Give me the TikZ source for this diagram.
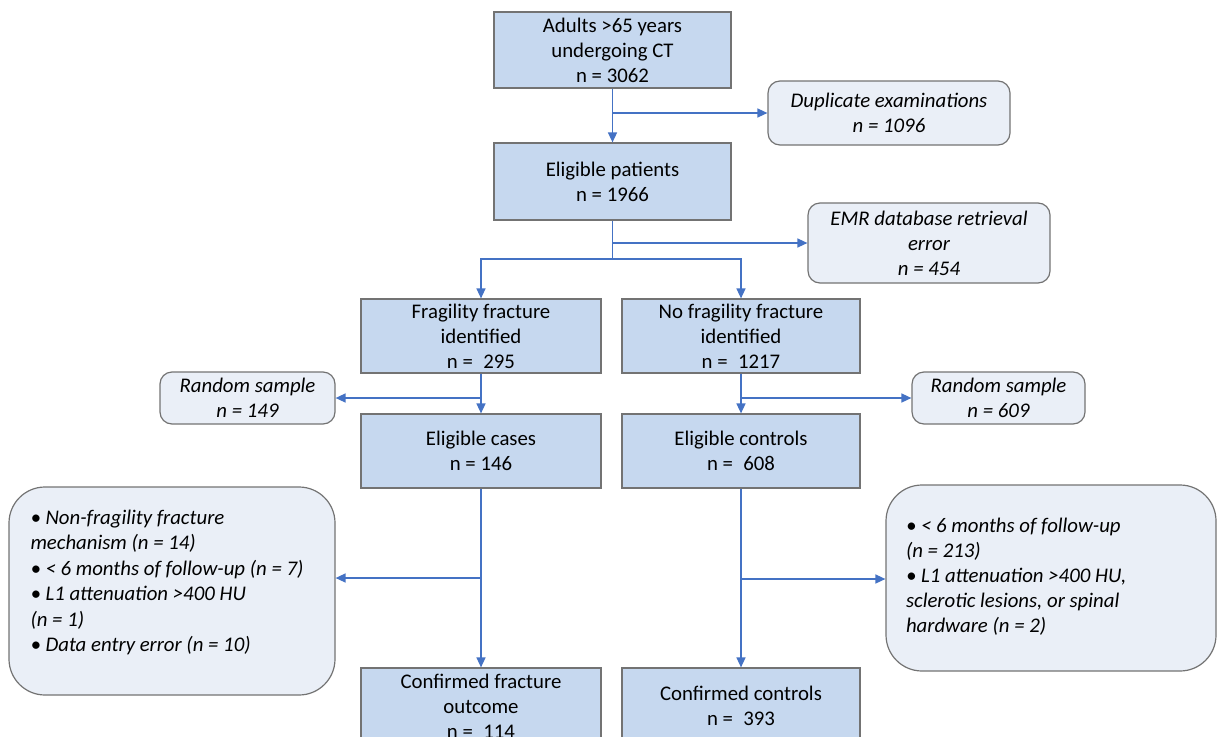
\documentclass[tikz,border=0pt]{standalone}
\usepackage{fontspec}
\setmainfont{Carlito}
\usetikzlibrary{arrows.meta,calc}
\definecolor{boxblue}{RGB}{198,216,239}
\definecolor{boxgray}{RGB}{115,115,115}
\definecolor{sidefill}{RGB}{234,239,247}
\definecolor{flowblue}{RGB}{68,114,196}
\begin{document}
\begin{tikzpicture}[x=1pt,y=-1pt,
  txt/.style={font=\fontsize{20.8}{25}\selectfont},
  mainbox/.style={txt, draw=boxgray, line width=1.2pt, fill=boxblue, minimum width=237pt, minimum height=76pt, align=center, inner sep=0pt},
  sidebox/.style={txt, draw=boxgray, line width=1.2pt, fill=sidefill, rounded corners=12pt, align=center, inner sep=0pt, font=\fontsize{20.8}{25}\selectfont\itshape},
  exbox/.style={sidebox, rounded corners=36pt},
  flow/.style={draw=flowblue, line width=1.5pt},
  arr/.style={flow, -{Triangle[length=10pt,width=9pt]}}]
\path[use as bounding box] (0,0) rectangle (1217,736);
\clip (0,0) rectangle (1217,736);

\node[mainbox] (adults) at (612.5,50) {Adults >65 years\\undergoing CT\\n = 3062};
\node[sidebox, minimum width=242pt, minimum height=64pt] (dup) at (889,113) {Duplicate examinations\\n = 1096};
\node[mainbox, minimum height=77pt] (elig) at (612.5,181.5) {Eligible patients\\n = 1966};
\node[sidebox, minimum width=242pt, minimum height=80pt] (emr) at (929,243) {EMR database retrieval\\error\\n = 454};
\node[mainbox, minimum width=240pt, minimum height=74pt] (frag) at (481,336) {Fragility fracture\\identified\\n =\enspace295};
\node[mainbox, minimum width=238pt, minimum height=74pt] (nofrag) at (741,336) {No fragility fracture\\identified\\n =\enspace1217};
\node[sidebox, minimum width=175pt, minimum height=52pt] (rs1) at (247.5,398) {Random sample\\n = 149};
\node[sidebox, minimum width=173pt, minimum height=52pt] (rs2) at (998.5,398) {Random sample\\n = 609};
\node[mainbox, minimum width=240pt, minimum height=74pt] (cases) at (481,451) {Eligible cases\\n = 146};
\node[mainbox, minimum width=238pt, minimum height=74pt] (controls) at (741,451) {Eligible controls\\n =\enspace608};
\node[exbox, minimum width=326pt, minimum height=208pt] (ex1) at (172,591)
  {\parbox[c][162pt][t]{303pt}{\raggedright\leftskip=10pt\baselineskip=25.4pt
  • Non-fragility fracture\\
  mechanism (n = 14)\\
  • < 6 months of follow-up (n = 7)\\
  • L1 attenuation >400 HU\\
  (n = 1)\\
  • Data entry error (n = 10)}};
\node[exbox, minimum width=330pt, minimum height=186pt] (ex2) at (1051,578)
  {\parbox[c][120pt][t]{290pt}{\raggedright
  • < 6 months of follow-up\\
  (n = 213)\\
  • L1 attenuation >400 HU,\\
  sclerotic lesions, or spinal\\
  hardware (n = 2)}};
\node[mainbox, minimum width=240pt, minimum height=76pt] (conf1) at (481,706) {Confirmed fracture\\outcome\\n =\enspace114};
\node[mainbox, minimum width=238pt, minimum height=76pt] (conf2) at (741,706) {Confirmed controls\\n =\enspace393};

\coordinate (split) at (612.5,259);
\coordinate (c1) at (481,578);
\coordinate (c2) at (741,579);

\draw[arr] (adults) -- (elig);
\draw[arr] (adults.south |- dup.west) -- (dup.west);
\draw[flow] (elig.south) -- (split);
\draw[arr] (elig.south |- emr.west) -- (emr.west);
\draw[arr] (split) -| (frag.north);
\draw[arr] (split) -| (nofrag.north);
\draw[arr] (frag) -- (cases);
\draw[arr] (nofrag) -- (controls);
\draw[arr] (frag.south |- rs1.east) -- (rs1.east);
\draw[arr] (nofrag.south |- rs2.west) -- (rs2.west);
\draw[arr] (cases) -- (conf1);
\draw[arr] (controls) -- (conf2);
\draw[arr] (c1) -- (c1 -| ex1.east);
\draw[arr] (c2) -- (c2 -| ex2.west);
\end{tikzpicture}
\end{document}
